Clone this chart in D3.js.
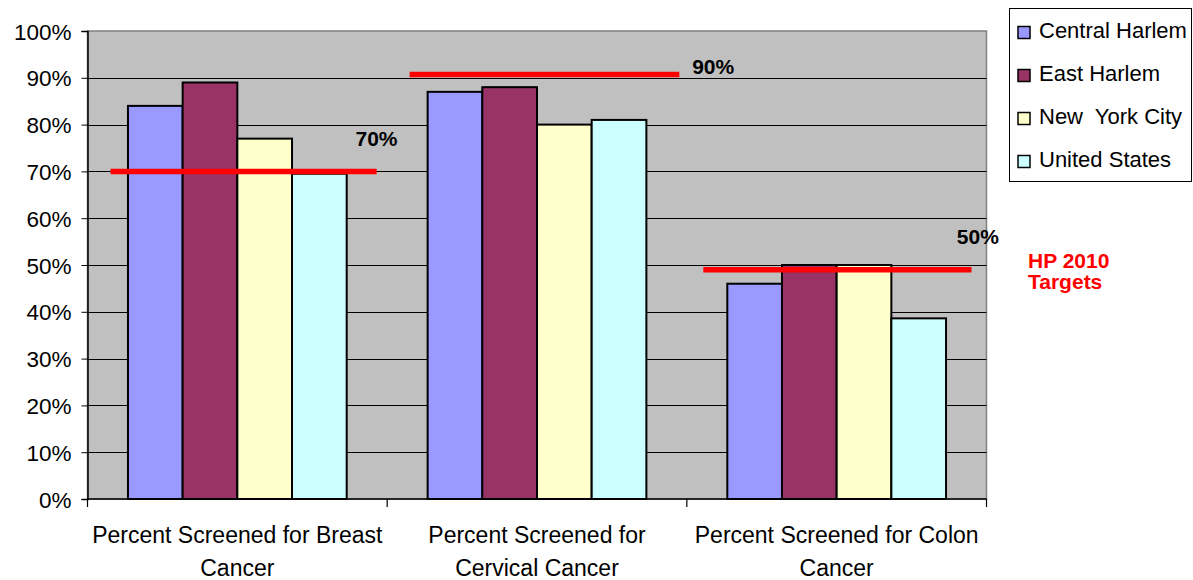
<!DOCTYPE html>
<html>
<head>
<meta charset="utf-8">
<script src="https://cdn.jsdelivr.net/npm/d3@7"></script>
<style>
  html, body { margin: 0; padding: 0; background: #fff; }
  svg { display: block; font-family: "Liberation Sans", Arial, sans-serif; }
  text { white-space: pre; }
</style>
</head>
<body>
<svg id="chart" width="1193" height="580"></svg>
<script>
// ---- data ----
const categories = ["Breast", "Cervical", "Colon"];
const categoryLabels = [
  ["Percent Screened for Breast", "Cancer"],
  ["Percent Screened for", "Cervical Cancer"],
  ["Percent Screened for Colon", "Cancer"]
];
const seriesNames = ["Central Harlem", "East Harlem", "New  York City", "United States"];
const centralHarlem = [84, 87, 46];
const eastHarlem = [89, 88, 50];
const newYorkCity = [77, 80, 50];
const unitedStates = [69.5, 81, 38.6];
const targetLineValues = [70, 90.7, 49];
const targetLabels = ["70%", "90%", "50%"];
const yTicks = [0, 10, 20, 30, 40, 50, 60, 70, 80, 90, 100];
const seriesColors = ["#9999ff", "#993366", "#ffffcc", "#ccffff"];
const seriesValues = [centralHarlem, eastHarlem, newYorkCity, unitedStates];

// ---- layout ----
const plot = { left: 87.5, right: 986.5, top: 31, bottom: 499 };
const svg = d3.select("#chart");

const x0 = d3.scaleBand().domain(categories).range([plot.left, plot.right]).padding(0);
const x1 = d3.scaleBand().domain(seriesNames).range([0, x0.bandwidth()]).paddingInner(0).paddingOuter(0.74);
const y = d3.scaleLinear().domain([0, 100]).range([plot.bottom, plot.top]);

// plot background
svg.append("rect")
  .attr("x", plot.left).attr("y", plot.top)
  .attr("width", plot.right - plot.left).attr("height", plot.bottom - plot.top)
  .attr("fill", "#c0c0c0").attr("stroke", "#808080").attr("stroke-width", 1.5);

// gridlines
svg.append("g").selectAll("line")
  .data(yTicks.filter(d => d > 0 && d < 100))
  .join("line")
  .attr("x1", plot.left).attr("x2", plot.right)
  .attr("y1", d => Math.round(y(d)) + 0.5).attr("y2", d => Math.round(y(d)) + 0.5)
  .attr("stroke", "#000").attr("stroke-width", 1);

// y axis
const yAxis = d3.axisLeft(y).tickValues(yTicks).tickFormat(d => d + "%").tickSize(6).tickPadding(10);
const gy = svg.append("g").attr("transform", `translate(${plot.left},0)`).call(yAxis);
gy.select(".domain").attr("stroke", "#000").attr("stroke-width", 1.5);
gy.selectAll(".tick line").attr("stroke", "#000");
gy.selectAll(".tick text").attr("font-size", 22.5).attr("fill", "#000")
  .attr("font-family", "Liberation Sans, Arial, sans-serif").attr("dy", "0.36em");

// bars
const groups = svg.append("g").selectAll("g")
  .data(categories)
  .join("g")
  .attr("transform", d => `translate(${x0(d)},0)`);
groups.selectAll("rect")
  .data((d, i) => seriesNames.map((s, j) => ({ s, j, v: seriesValues[j][i] })))
  .join("rect")
  .attr("x", d => x1(d.s))
  .attr("width", x1.bandwidth())
  .attr("y", d => y(d.v))
  .attr("height", d => y(0) - y(d.v))
  .attr("fill", d => seriesColors[d.j])
  .attr("stroke", "#000").attr("stroke-width", 2);

// x axis line and ticks
svg.append("line")
  .attr("x1", plot.left).attr("x2", plot.right)
  .attr("y1", plot.bottom).attr("y2", plot.bottom)
  .attr("stroke", "#000").attr("stroke-width", 1.5);
const boundaries = categories.map(c => x0(c)).concat([plot.right]);
svg.append("g").selectAll("line")
  .data(boundaries)
  .join("line")
  .attr("x1", d => d).attr("x2", d => d)
  .attr("y1", plot.bottom).attr("y2", plot.bottom + 8)
  .attr("stroke", "#000").attr("stroke-width", 1.2);

// category labels
const xl = svg.append("g").selectAll("text")
  .data(categories)
  .join("text")
  .attr("x", d => x0(d) + x0.bandwidth() / 2)
  .attr("y", 543)
  .attr("text-anchor", "middle")
  .attr("font-size", 23)
  .attr("fill", "#000");
xl.each(function(d, i) {
  const t = d3.select(this);
  categoryLabels[i].forEach((line, k) => {
    t.append("tspan").attr("x", x0(d) + x0.bandwidth() / 2).attr("dy", k === 0 ? 0 : 33).text(line);
  });
});

// target lines
const tStart = [0.077, 0.075, 0.055];
const tEnd = [0.965, 0.975, 0.95];
svg.append("g").selectAll("line")
  .data(categories)
  .join("line")
  .attr("x1", (d, i) => x0(d) + x0.bandwidth() * tStart[i])
  .attr("x2", (d, i) => x0(d) + x0.bandwidth() * tEnd[i])
  .attr("y1", (d, i) => y(targetLineValues[i]))
  .attr("y2", (d, i) => y(targetLineValues[i]))
  .attr("stroke", "#ff0000").attr("stroke-width", 5.5);

// target labels
const labelDx = [268, 305, 270];
const labelDy = [-25, -0.5, -26];
svg.append("g").selectAll("text")
  .data(categories)
  .join("text")
  .attr("x", (d, i) => x0(d) + labelDx[i])
  .attr("y", (d, i) => y(targetLineValues[i]) + labelDy[i])
  .attr("font-size", 21).attr("font-weight", "bold").attr("fill", "#000")
  .text((d, i) => targetLabels[i]);

// HP 2010 Targets note
const note = svg.append("text")
  .attr("x", 1028).attr("y", 268)
  .attr("font-size", 21).attr("font-weight", "bold").attr("fill", "#ff0000");
note.append("tspan").attr("x", 1028).attr("dy", 0).text("HP 2010");
note.append("tspan").attr("x", 1028).attr("dy", 21).text("Targets");

// legend
const legend = svg.append("g");
legend.append("rect")
  .attr("x", 1009.5).attr("y", 8.5).attr("width", 182).attr("height", 173)
  .attr("fill", "#fff").attr("stroke", "#000").attr("stroke-width", 1);
const li = legend.selectAll("g.item")
  .data(seriesNames)
  .join("g").attr("class", "item")
  .attr("transform", (d, i) => `translate(0,${38 + i * 43})`);
li.append("rect")
  .attr("x", 1018).attr("y", -11.5).attr("width", 12).attr("height", 12)
  .attr("fill", (d, i) => seriesColors[i])
  .attr("stroke", "#000").attr("stroke-width", 1.5);
li.append("text")
  .attr("x", 1039).attr("y", 0)
  .attr("font-size", 22).attr("fill", "#000")
  .text(d => d);
</script>
</body>
</html>
